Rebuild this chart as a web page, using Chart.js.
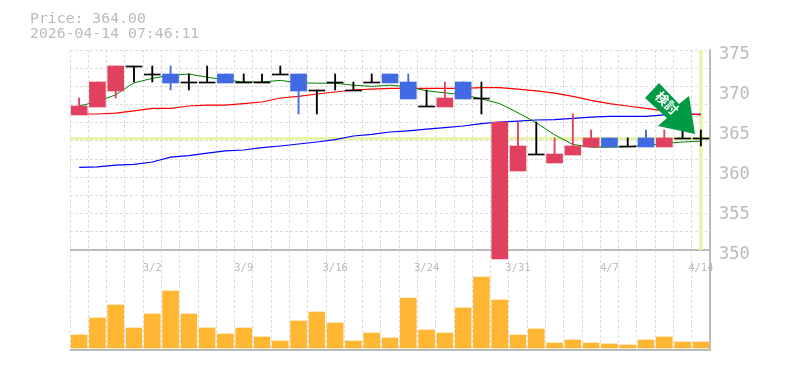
<!DOCTYPE html>
<html>
<head>
<meta charset="utf-8">
<script src="https://cdn.jsdelivr.net/npm/chart.js@4"></script>
<style>
  body { margin: 0; background: #fff; }
  #wrap { position: relative; width: 785px; height: 370px; }
  #info { position: absolute; left: 30px; top: 10px; font: 14.8px/15px "DejaVu Sans Mono", monospace; color: #bbb; white-space: pre; }
</style>
</head>
<body>
<div id="wrap">
  <canvas id="chart" width="785" height="370"></canvas>
  <div id="info">Price: 364.00
2026-04-14 07:46:11</div>
</div>
<script>
// tick labels, only every 5th session is labelled
const dateLabels = ['', '', '', '', '3/2', '', '', '', '', '3/9', '', '', '', '', '3/16', '', '', '', '', '3/24',
    '', '', '', '', '3/31', '', '', '', '', '4/7', '', '', '', '', '4/14'];
const priceTicks = [370, 365, 360, 355, 350];
const lastPrice = 364;

// candles
const opens = [367, 368, 370, 373, 372, 372, 371, 371, 372, 371, 371, 372, 372, 370, 371, 370, 371, 372,
    371, 368, 368, 371, 369, 349, 360, 362, 361, 362, 363, 364, 363, 364, 363, 364, 364];
const closes = [368, 371, 373, 373, 372, 371, 371, 371, 371, 371, 371, 372, 370, 370, 371, 370, 371, 371,
    369, 368, 369, 369, 369, 366, 363, 362, 362, 363, 364, 363, 363, 363, 364, 364, 364];
const highs = [369, 371, 373, 373, 373, 373, 372, 373, 372, 372, 372, 373, 372, 370, 372, 371, 372, 372,
    372, 370, 371, 371, 371, 366, 366, 366, 364, 367, 365, 364, 364, 365, 365, 365, 365];
const lows = [367, 368, 369, 371, 371, 370, 370, 371, 371, 371, 371, 372, 367, 367, 370, 370, 371, 371,
    369, 368, 368, 369, 367, 349, 360, 362, 361, 362, 363, 363, 363, 363, 363, 364, 363];

// moving averages
const maGreen = [368, 368.55, 369.4, 370.9, 371.45, 371.85, 372, 371.6, 371.25, 371, 371, 371.2, 370.9, 370.85,
    370.85, 370.6, 370.45, 370.6, 370.4, 369.9, 369.65, 369.4, 368.9, 368.3, 367.15, 365.9, 364.4, 363.2,
    362.85, 362.85, 362.9, 363.1, 363.3, 363.5, 363.6];
const maRed = [367, 367, 367.1, 367.4, 367.7, 367.7, 368, 368.1, 368.1, 368.3, 368.5, 369, 369.2, 369.5,
    369.75, 370, 370.1, 370.2, 370.2, 370.2, 370.2, 370.2, 370.3, 370.3, 370.1, 369.9, 369.6, 369.2,
    368.7, 368.3, 368, 367.7, 367.4, 367.1, 366.9];
const maBlue = [360.33, 360.4, 360.6, 360.7, 361, 361.6, 361.8, 362.1, 362.4, 362.5, 362.8, 363, 363.25, 363.5,
    363.8, 364.25, 364.45, 364.75, 364.9, 365.1, 365.3, 365.5, 365.8, 366, 366.1, 366.25, 366.3, 366.45,
    366.6, 366.7, 366.7, 366.7, 366.9, 366.9, 367];

const volumes = [13, 30, 43, 20, 34, 57, 34, 20, 14, 20, 11, 7, 27, 36, 25, 7, 15, 10,
    50, 18, 15, 40, 71, 48, 13, 19, 5, 8, 5, 4, 3, 8, 11, 6, 6];

const UP = '#e2405f';
const DOWN = '#4169e1';
const FLAT = '#000';
const BAND = '#e6f5a9';
const GRID = '#ddd';
const TEXT = '#bbb';
const ONE_PX = 25 / 200; // price per pixel, bars keep the bottom pixel row

const candleColor = opens.map((o, i) => closes[i] > o ? UP : closes[i] < o ? DOWN : FLAT);
const bodies = opens.map((o, i) => [Math.min(o, closes[i]) - ONE_PX, Math.max(o, closes[i])]);
const wicks = highs.map((h, i) => [lows[i], h]);
const lastBand = dateLabels.map((d, i) => i === dateLabels.length - 1 ? [350, 375] : null);

const lineSet = (data, color, width) => ({
    type: 'line', data, borderColor: color, borderWidth: width,
    pointRadius: 0, tension: 0, yAxisID: 'y', order: 5
});

// green arrow over the last sessions
const arrowPlugin = {
    id: 'arrow',
    afterDraw(chart) {
        const c = chart.ctx;
        c.save();
        c.fillStyle = '#009a44';
        c.beginPath();
        c.moveTo(659, 83);
        c.lineTo(679, 104);
        c.lineTo(689, 96);
        c.lineTo(695, 134);
        c.lineTo(658, 126);
        c.lineTo(667, 118);
        c.lineTo(645, 98);
        c.closePath();
        c.fill();
        c.translate(667, 103);
        c.rotate(Math.PI / 4);
        c.fillStyle = '#fff';
        c.font = 'bold 13px "Noto Sans CJK JP"';
        c.textAlign = 'center';
        c.textBaseline = 'middle';
        c.fillText('検討', 0, 0);
        c.restore();
    }
};

new Chart(document.getElementById('chart'), {
    data: {
        labels: dateLabels,
        datasets: [
            { type: 'bar', data: lastBand, backgroundColor: BAND, barThickness: 3, yAxisID: 'y', order: 9 },
            lineSet(maGreen, '#008000', 1),
            lineSet(maRed, '#ff0000', 1.2),
            lineSet(maBlue, '#0000ff', 1.2),
            { type: 'bar', data: wicks, backgroundColor: candleColor, barThickness: 1.2, yAxisID: 'y', order: 2 },
            { type: 'bar', data: bodies, backgroundColor: candleColor, barThickness: 16, yAxisID: 'y', order: 1, clip: false },
            { type: 'bar', data: volumes, backgroundColor: '#ffb733', barThickness: 16, yAxisID: 'vol', order: 3 }
        ]
    },
    options: {
        responsive: false,
        animation: false,
        layout: { padding: { left: 70, top: 50, right: 35, bottom: 20 } },
        datasets: { bar: { grouped: false } },
        plugins: { legend: { display: false }, tooltip: { enabled: false } },
        scales: {
            x: {
                offset: true,
                // anchored on the top of the volume panel, date labels sit inside it
                position: { vol: 98 },
                grid: { color: GRID, drawTicks: false },
                border: { display: false, dash: [3, 2] },
                ticks: {
                    autoSkip: false, maxRotation: 0, padding: 12, color: TEXT,
                    font: { family: '"DejaVu Sans Mono"', size: 10.5 }
                }
            },
            y: {
                position: 'right',
                stack: 'panels',
                stackWeight: 2,
                min: 350,
                max: 375,
                afterBuildTicks(scale) {
                    // 11 grid rows, the price labels do not sit on them
                    const rows = [];
                    for (let k = 0; k < 11; k++) rows.push({ value: 375 - k * 25 / 11 });
                    scale.ticks = rows.concat(priceTicks.map(value => ({ value })), { value: lastPrice })
                        .sort((a, b) => a.value - b.value);
                },
                afterFit(scale) { scale.width = 40; },
                grid: {
                    drawTicks: false,
                    color: ctx => ctx.tick.value === lastPrice ? BAND
                        : priceTicks.includes(ctx.tick.value) ? 'transparent' : GRID,
                    lineWidth: ctx => ctx.tick.value === lastPrice ? 3 : 1
                },
                border: {
                    color: TEXT, width: 2,
                    dash: ctx => ctx.tick && ctx.tick.value === lastPrice ? [] : [3, 2]
                },
                ticks: {
                    autoSkip: false, padding: 9, labelOffset: 5, color: TEXT,
                    font: { family: '"DejaVu Sans Mono"', size: 17 },
                    callback: v => (v === 375 || priceTicks.includes(v)) && v !== lastPrice ? String(v) : ''
                }
            },
            vol: {
                position: 'right',
                stack: 'panels',
                stackWeight: 1,
                min: -2,
                max: 98,
                afterBuildTicks(scale) {
                    scale.ticks = [{ value: -2 }, { value: 98 }];
                },
                afterFit(scale) { scale.width = 40; },
                grid: { color: TEXT, lineWidth: 2, drawTicks: false },
                border: { color: TEXT, width: 2 },
                ticks: { display: false }
            }
        }
    },
    plugins: [arrowPlugin]
});
</script>
</body>
</html>
